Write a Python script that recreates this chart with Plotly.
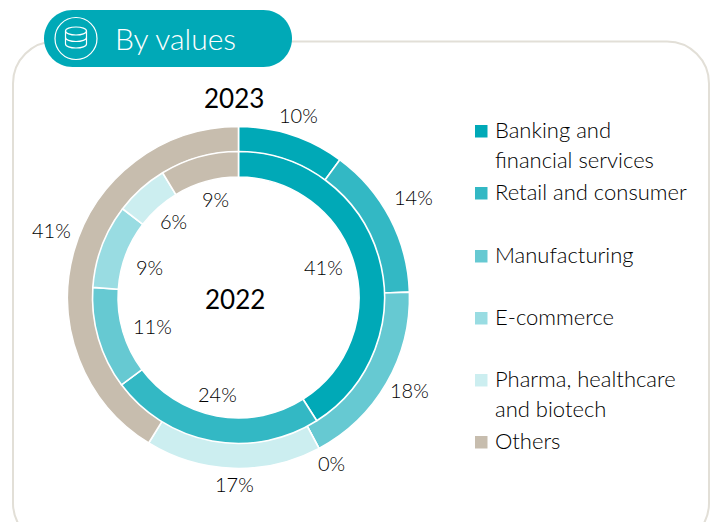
import plotly.graph_objects as go

W, H = 719, 522
FONT = "Lato"
INK = "#000000"

categories = ["Banking and<br>financial services", "Retail and consumer", "Manufacturing",
              "E-commerce", "Pharma, healthcare<br>and biotech", "Others"]
colors = ["#00a9b7", "#33b8c4", "#66c9d2", "#99dce2", "#cceef0", "#c7bdae"]
values_2023 = [10.1, 14.4, 17.7, 0, 16.6, 41.2]
values_2022 = [41, 23.8, 11.3, 9.3, 5.9, 8.7]

def px(x): return x / W
def py(y): return 1 - y / H

def ring(vals, cx, cy, r, hole, name):
    return go.Pie(values=vals, labels=categories, name=name, sort=False, direction="clockwise",
                  rotation=0, hole=hole, textinfo="none", showlegend=False,
                  marker=dict(colors=colors, line=dict(color="white", width=1.6)),
                  domain=dict(x=[px(cx - r), px(cx + r)], y=[py(cy + r), py(cy - r)]))

fig = go.Figure([
    ring(values_2023, 238.5, 297.5, 171, 0.85, "2023"),
    ring(values_2022, 238.5, 297.5, 146, 0.825, "2022"),
])

def path_rect(x0, y0, x1, y1, r):
    k = 0.448 * r
    pts = [
        f"M {px(x0+r)} {py(y0)}", f"L {px(x1-r)} {py(y0)}",
        f"C {px(x1-k)} {py(y0)} {px(x1)} {py(y0+k)} {px(x1)} {py(y0+r)}",
        f"L {px(x1)} {py(y1-r)}",
        f"C {px(x1)} {py(y1-k)} {px(x1-k)} {py(y1)} {px(x1-r)} {py(y1)}",
        f"L {px(x0+r)} {py(y1)}",
        f"C {px(x0+k)} {py(y1)} {px(x0)} {py(y1-k)} {px(x0)} {py(y1-r)}",
        f"L {px(x0)} {py(y0+r)}",
        f"C {px(x0)} {py(y0+k)} {px(x0+k)} {py(y0)} {px(x0+r)} {py(y0)} Z",
    ]
    return " ".join(pts)

shapes = [
    dict(type="path", path=path_rect(13, 41.5, 709, 545, 42), xref="paper", yref="paper",
         line=dict(color="#e2dfd7", width=2), layer="below"),
    dict(type="path", path=path_rect(44, 10, 292, 67, 28.5), xref="paper", yref="paper",
         fillcolor="#00a9b7", line=dict(width=0)),
    dict(type="circle", xref="paper", yref="paper", x0=px(55), x1=px(97), y0=py(59.5), y1=py(17.5),
         line=dict(color="white", width=1.2)),
]

# database icon: stacked discs
def disc(cx, cy, rx, ry, top):
    s = -1 if top else 1
    k = 0.55
    p = (f"M {px(cx-rx)} {py(cy)} C {px(cx-rx)} {py(cy+s*ry*k)} {px(cx-rx*k)} {py(cy+s*ry)} {px(cx)} {py(cy+s*ry)} "
         f"C {px(cx+rx*k)} {py(cy+s*ry)} {px(cx+rx)} {py(cy+s*ry*k)} {px(cx+rx)} {py(cy)}")
    return dict(type="path", path=p, xref="paper", yref="paper", line=dict(color="white", width=1.2))

shapes += [disc(76, 31, 10.5, 4, True), disc(76, 31, 10.5, 4, False),
           disc(76, 37.5, 10.5, 4, False), disc(76, 44, 10.5, 4, False)]
shapes.append(dict(type="path", xref="paper", yref="paper", line=dict(color="white", width=1.2),
                   path=f"M {px(65.5)} {py(31)} L {px(65.5)} {py(44)} M {px(86.5)} {py(31)} L {px(86.5)} {py(44)}"))

annotations = []
def text(x, y, s, size, color=INK, anchor="center", weight=300):
    annotations.append(dict(x=px(x), y=py(y), xref="paper", yref="paper", text=s, showarrow=False,
                            xanchor=anchor, yanchor="middle", align="left",
                            font=dict(family=FONT, size=size, color=color, weight=weight)))

# legend
legend_y = [131, 193, 256, 318, 380, 442]
for c, name, y in zip(colors, categories, legend_y):
    shapes.append(dict(type="rect", xref="paper", yref="paper", x0=px(475), x1=px(487.5),
                       y0=py(y + 6.5), y1=py(y - 6), fillcolor=c, line=dict(width=0)))
    if "<br>" in name:
        a, b = name.split("<br>")
        text(492.5, y - 2, a, 22, anchor="left")
        text(492.5, y + 28, b, 22, anchor="left")
    else:
        text(492.5, y - 2, name, 22, anchor="left")

# value labels
outer_pos = [(298, 115), (413, 197), (409, 390), (331, 463), (234, 484), (51, 230)]
inner_pos = [(323, 267), (217, 394), (152, 326), (149, 267), (173, 221), (215, 199)]
for v, (x, y) in zip(values_2023, outer_pos):
    text(x, y, f"{v:.0f}%", 20)
for v, (x, y) in zip(values_2022, inner_pos):
    text(x, y, f"{v:.0f}%", 20)

text(233.5, 98, "2023", 26, color="#000000", weight=400)
text(234.5, 299, "2022", 26, color="#000000", weight=400)
text(175.5, 38, "By values", 30, color="white")

fig.update_layout(width=W, height=H, margin=dict(l=0, r=0, t=0, b=0), paper_bgcolor="white",
                  shapes=shapes, annotations=annotations, showlegend=False)
fig.write_html("out.html", config=dict(displayModeBar=False),
               post_script="document.body.style.margin='0';document.body.style.overflow='hidden';")
